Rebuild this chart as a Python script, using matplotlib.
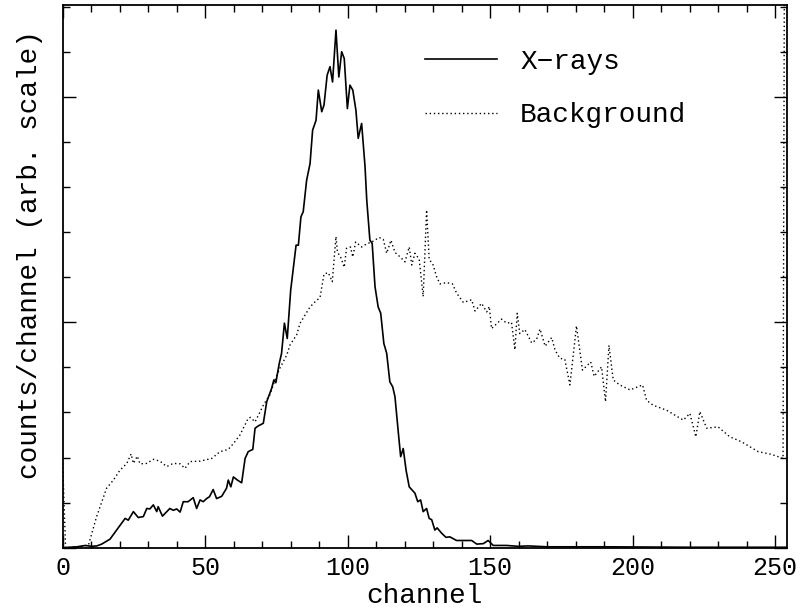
import matplotlib
matplotlib.use("Agg")
import matplotlib.pyplot as plt
import numpy as np

# X-ray spectrum (arbitrary units)
xray_channel = [
    0, 5, 8, 10, 12, 13.7, 16.6, 18.9, 21.9, 23, 24.8, 26.5, 28.3, 29.5, 30.6,
    31.8, 33, 33.5, 35, 37.6, 38.8, 40, 41.2, 42.3, 44, 45.8, 47, 48.2, 49.3,
    50.5, 51.5, 52.8, 54, 55.8, 57.5, 58.1, 59, 59.9, 61.3, 62.8, 64, 65.1,
    66.7, 67.5, 68.6, 70.4, 71.6, 73.3, 74.1, 74.8, 76, 76.8, 77.8, 78.8, 80,
    81.9, 82.7, 83.6, 84.4, 85.6, 86.8, 87.7, 88.9, 89.7, 90.9, 91.7, 92.8,
    93.8, 94.7, 95.9, 96.9, 97.9, 98.8, 99.9, 100.8, 101.8, 102.9, 103.7,
    104.9, 106.1, 106.7, 107.8, 108.6, 109.6, 110.7, 111.6, 112.7, 113.7,
    114.8, 115.8, 116.6, 117.8, 118.6, 119.5, 120.5, 121.6, 123.6, 124.6,
    125.6, 126.5, 127.7, 128.6, 129.5, 130.6, 131.4, 133, 134.5, 135.9, 138.2,
    143.5, 145.3, 147.6, 149.3, 151.1, 155.7, 160, 163.3, 170, 190, 220, 254,
]
xray_counts = [
    0, 0.02, 0.05, 0.03, 0.04, 0.08, 0.19, 0.39, 0.65, 0.61, 0.80, 0.67, 0.69,
    0.87, 0.86, 0.95, 0.80, 0.91, 0.70, 0.87, 0.83, 0.86, 0.79, 1.02, 1.02,
    1.11, 0.87, 1.06, 1.02, 1.09, 1.13, 1.29, 1.09, 1.14, 1.32, 1.50, 1.35,
    1.57, 1.50, 1.44, 1.98, 2.13, 2.18, 2.65, 2.70, 2.76, 3.24, 3.53, 3.72,
    3.66, 4.09, 4.31, 4.98, 4.64, 5.71, 6.71, 6.71, 7.34, 7.45, 8.15, 8.52,
    9.26, 9.48, 10.15, 9.67, 9.82, 10.48, 10.67, 10.33, 11.48, 10.44, 11.0,
    10.85, 9.74, 10.26, 10.15, 9.70, 9.08, 9.41, 8.45, 7.71, 6.82, 6.75, 5.79,
    5.34, 5.20, 4.53, 4.31, 3.68, 3.57, 3.35, 2.54, 2.02, 2.20, 1.72, 1.35,
    1.21, 1.02, 1.06, 0.80, 0.87, 0.65, 0.62, 0.39, 0.44, 0.32, 0.23, 0.24,
    0.16, 0.16, 0.08, 0.09, 0.16, 0.05, 0.05, 0.03, 0.04, 0.02, 0.02, 0.01,
    0.01,
]

# background spectrum (last channel is off scale)
bkg_channel = [
    0, 1, 5, 9, 11.9, 15.4, 17.8, 20.1, 22.5, 24, 24.8, 26.2, 27.1, 29.5, 31.8,
    34.1, 36.5, 38.8, 41.2, 42.9, 44.7, 48.2, 52.3, 55.2, 58.1, 59.9, 62.2,
    65.1, 65.9, 67.5, 70.4, 72.7, 74.5, 76.2, 78.6, 79.8, 82.1, 83.3, 86.8,
    88.5, 90.3, 91.7, 93.2, 94.6, 95.9, 96.4, 97.7, 98.8, 99.6, 101, 101.8,
    102.8, 104.9, 106.7, 108.4, 111.1, 112.5, 113.7, 115.2, 116.6, 118.4,
    120.1, 121.6, 122.5, 123.6, 125.1, 126.5, 127.7, 128.6, 130, 131.2, 132.4,
    134.7, 136.8, 138.2, 140.6, 143.5, 144.7, 147, 148.8, 149.7, 150.5, 152.5,
    154, 155.8, 157.5, 158.7, 159.5, 160.4, 162.2, 164.6, 166.3, 167.5, 169.3,
    171.6, 172.8, 174.5, 176.2, 178, 180.3, 182.4, 185.3, 186.5, 189.1, 190.5,
    191.7, 193.2, 195.5, 199.1, 203.5, 204.9, 207.2, 211.9, 217.8, 220.1,
    222.2, 223.6, 226, 230, 234.1, 238.2, 244.1, 248.8, 252.8, 254,
]
bkg_counts = [
    1.87, 0.0, 0.02, 0.05, 0.69, 1.32, 1.50, 1.72, 1.87, 2.08,
    1.87, 2.03, 1.86, 1.87, 1.96, 1.92, 1.80, 1.87, 1.86, 1.76,
    1.91, 1.92, 1.98, 2.13, 2.18, 2.31, 2.50, 2.87, 2.89, 2.79,
    3.16, 3.39, 3.72, 3.98, 4.27, 4.50, 4.72, 4.98, 5.34, 5.45,
    5.55, 6.07, 6.10, 5.90, 6.90, 6.56, 6.42, 6.22, 6.64, 6.67,
    6.45, 6.78, 6.67, 6.74, 6.78, 6.88, 6.84, 6.53, 6.82, 6.55,
    6.45, 6.34, 6.67, 6.27, 6.53, 6.40, 5.57, 7.49, 6.40, 6.27,
    6.01, 5.85, 5.88, 5.85, 5.65, 5.44, 5.50, 5.25, 5.42, 5.23,
    5.35, 4.86, 4.98, 5.07, 4.98, 5.00, 4.39, 5.20, 4.75, 4.84,
    4.54, 4.62, 4.85, 4.47, 4.66, 4.38, 4.20, 4.18, 3.61, 4.92,
    3.94, 4.12, 3.80, 4.01, 3.24, 4.49, 3.72, 3.61, 3.50, 3.61,
    3.27, 3.16, 3.05, 2.83, 2.98, 2.46, 3.02, 2.65, 2.68, 2.46,
    2.35, 2.13, 2.07, 1.98, 30.0,
]

FONT = ["Liberation Mono", "DejaVu Sans Mono"]
plt.rcParams["font.family"] = FONT

fig = plt.figure(figsize=(8, 6.11), dpi=100)
ax = fig.add_axes([0.0784, 0.1036, 0.9054, 0.8877])

ax.plot(xray_channel, xray_counts, color="black", linewidth=1.2,
        label="X\u2212rays")
ax.plot(bkg_channel, bkg_counts, color="black", linewidth=1.0,
        linestyle=(0, (1, 2)), label="Background")

ax.set_xlim(0, 254.2)
ax.set_ylim(0, 12.03)
ax.xaxis.set_major_locator(matplotlib.ticker.MultipleLocator(50))
ax.xaxis.set_minor_locator(matplotlib.ticker.MultipleLocator(10))
ax.yaxis.set_major_locator(matplotlib.ticker.MultipleLocator(5))
ax.yaxis.set_minor_locator(matplotlib.ticker.MultipleLocator(1))
ax.tick_params(which="both", direction="in", top=True, right=True,
               width=1.0, colors="black")
ax.tick_params(which="major", length=9.5, pad=6, labelsize=18)
ax.tick_params(which="minor", length=5)
ax.tick_params(axis="y", labelleft=False)
for sp in ax.spines.values():
    sp.set_linewidth(1.3)

ax.set_xlabel("channel", fontsize=20, labelpad=2)
ax.set_ylabel("counts/channel (arb. scale)", fontsize=20)
ax.yaxis.set_label_coords(-0.027, 0.541)

ax.legend(loc="upper left", bbox_to_anchor=(0.5, 0.92), frameon=False,
          fontsize=20, handlelength=2.6, handletextpad=0.83,
          labelspacing=1.0, borderpad=0, borderaxespad=0)

fig.savefig("out.png", dpi=100)
